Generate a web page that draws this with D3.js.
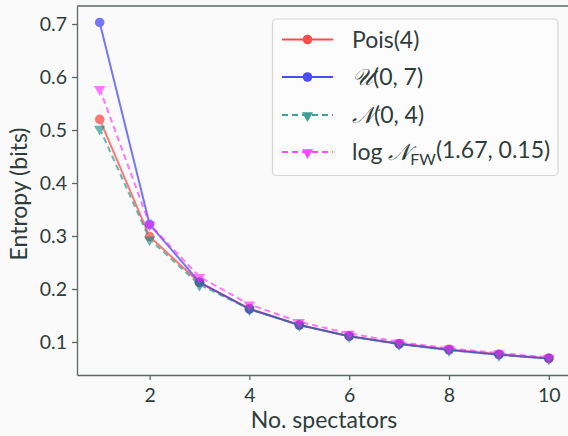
<!DOCTYPE html>
<style>
body { margin: 0; background: #fafafa; }
svg { display: block; font-family: Lato, 'Open Sans', sans-serif; }
.axis path, .axis line { stroke: #5b6868; stroke-width: 1.3; }
</style>
<svg width="568" height="436"></svg>
<script src="https://d3js.org/d3.v7.min.js"></script>
<script>
var spectators = [1, 2, 3, 4, 5, 6, 7, 8, 9, 10];
var pois    = [0.520, 0.299, 0.212, 0.163, 0.132, 0.111, 0.097, 0.086, 0.077, 0.069];
var unif    = [0.703, 0.322, 0.213, 0.162, 0.132, 0.111, 0.096, 0.085, 0.076, 0.069];
var norm    = [0.503, 0.294, 0.208, 0.162, 0.132, 0.111, 0.096, 0.085, 0.076, 0.069];
var logNorm = [0.578, 0.322, 0.223, 0.171, 0.138, 0.116, 0.100, 0.088, 0.079, 0.071];
var xTicks = [2, 4, 6, 8, 10];
var yTicks = [0.1, 0.2, 0.3, 0.4, 0.5, 0.6, 0.7];

var series = [
  {name: "Pois(4)", values: pois, color: "#ff2020", dash: null, marker: "circle"},
  {name: "U", values: unif, color: "#2020ff", dash: null, marker: "circle"},
  {name: "N", values: norm, color: "#108880", dash: "6,4", marker: "tri"},
  {name: "logN", values: logNorm, color: "#ff20ff", dash: "6,4", marker: "tri"}
];

var svg = d3.select("svg");
var plotLeft = 77, plotTop = 6, plotBottom = 375;
var textColor = "#2f3c3c";

var x = d3.scaleLinear().domain([0.545, 10.6]).range([plotLeft, plotLeft + (10.6 - 0.545) * 49.9]);
var y = d3.scaleLinear().domain([0.0377, 0.734]).range([plotBottom, plotTop]);

// top spine
svg.append("line").attr("x1", plotLeft).attr("x2", 568).attr("y1", plotTop).attr("y2", plotTop)
  .attr("stroke", "#5b6868").attr("stroke-width", 1.3);

var xAxis = svg.append("g").attr("class", "axis")
  .attr("transform", "translate(0," + plotBottom + ")")
  .call(d3.axisBottom(x).tickValues(xTicks).tickSize(5).tickPadding(8).tickSizeOuter(0));

var yAxis = svg.append("g").attr("class", "axis")
  .attr("transform", "translate(" + plotLeft + ",0)")
  .call(d3.axisLeft(y).tickValues(yTicks).tickFormat(d3.format(".1f")).tickSize(5).tickPadding(5).tickSizeOuter(0));

[xAxis, yAxis].forEach(function(a) {
  a.attr("font-family", null).attr("font-size", null);
  a.selectAll("text").style("font-size", "19.5px").attr("fill", textColor);
});

var line = d3.line().x(function(d, i) { return x(spectators[i]); }).y(function(d) { return y(d); });
var tri = d3.symbol().type(d3.symbolTriangle).size(55);

function drawMarker(g, s, cx, cy) {
  if (s.marker == "circle") {
    g.append("circle").attr("cx", cx).attr("cy", cy).attr("r", 4.8).attr("fill", s.color);
  } else {
    g.append("path").attr("d", tri).attr("fill", s.color)
      .attr("transform", "translate(" + cx + "," + (cy + 0.5) + ") rotate(180)");
  }
}

series.forEach(function(s) {
  var g = svg.append("g").attr("opacity", 0.6);
  g.append("path").datum(s.values).attr("d", line)
    .attr("fill", "none").attr("stroke", s.color).attr("stroke-width", 2)
    .attr("stroke-dasharray", s.dash);
  s.values.forEach(function(v, i) { drawMarker(g, s, x(spectators[i]), y(v)); });
});

// axis labels
svg.append("text").attr("x", 324).attr("y", 428).attr("text-anchor", "middle")
  .attr("font-size", 23).attr("fill", textColor).text("No.  spectators");
svg.append("text").attr("transform", "translate(27,194) rotate(-90)")
  .attr("text-anchor", "middle").attr("font-size", 23).attr("fill", textColor)
  .text("Entropy (bits)");

// legend
var legend = svg.append("g");
legend.append("rect").attr("x", 272.5).attr("y", 19).attr("width", 285.5).attr("height", 156.5)
  .attr("rx", 4).attr("fill", "#fcfcfc").attr("stroke", "#d6d6d6").attr("stroke-width", 1.2);

var rowY = [39.5, 77, 115, 152];
series.forEach(function(s, i) {
  var g = legend.append("g").attr("opacity", 0.8);
  g.append("line").attr("x1", 282).attr("x2", 333).attr("y1", rowY[i]).attr("y2", rowY[i])
    .attr("stroke", s.color).attr("stroke-width", 2).attr("stroke-dasharray", s.dash);
  drawMarker(g, s, 307.5, rowY[i]);
});

var labelG = legend.append("g").attr("font-size", 23).attr("fill", textColor);
function label(i) {
  return labelG.append("text").attr("x", 352).attr("y", rowY[i]).attr("dy", "0.35em");
}
label(0).text("Pois(4)");
var t1 = label(1);
t1.append("tspan").attr("font-family", "'DejaVu Serif', serif").attr("font-style", "italic").text("\u{1D4B0}");
t1.append("tspan").text("(0, 7)");
var t2 = label(2);
t2.append("tspan").attr("font-family", "'DejaVu Serif', serif").attr("font-style", "italic").text("\u{1D4A9}");
t2.append("tspan").text("(0, 4)");
var t3 = label(3);
t3.append("tspan").text("log ");
t3.append("tspan").attr("font-family", "'DejaVu Serif', serif").attr("font-style", "italic").text("\u{1D4A9}");
t3.append("tspan").attr("font-size", 16).attr("dy", "0.3em").text("FW");
t3.append("tspan").attr("dy", "-0.3em").text("(1.67, 0.15)");
</script>
